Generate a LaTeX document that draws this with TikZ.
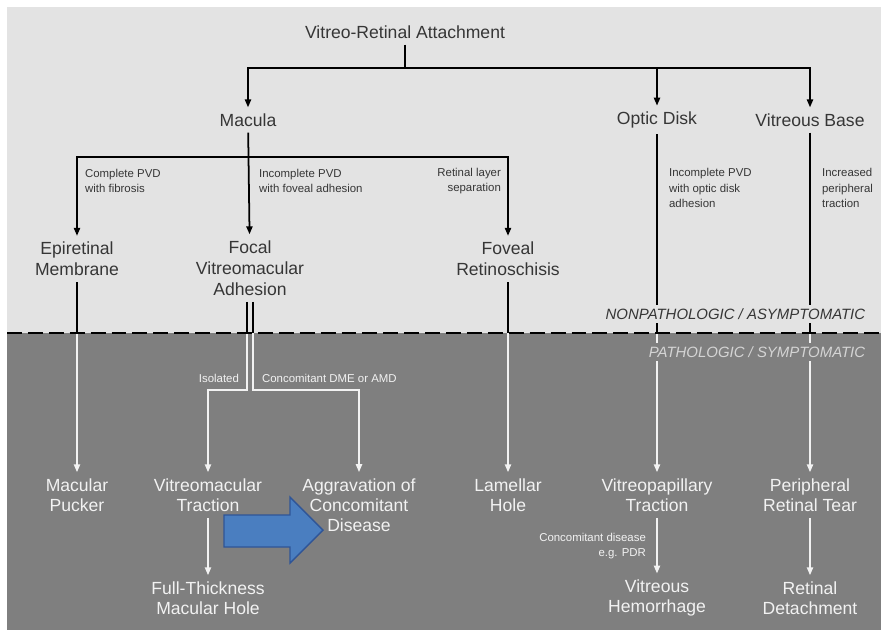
\documentclass[tikz,border=0pt]{standalone}
\usepackage{fontspec}
\setmainfont{Liberation Sans}
\usetikzlibrary{arrows.meta, positioning, calc}
\definecolor{topbg}{HTML}{E3E3E3}
\definecolor{botbg}{HTML}{7F7F7F}
\definecolor{toptext}{HTML}{363636}
\definecolor{bottext}{HTML}{F2F2F2}
\definecolor{zonetext}{HTML}{D4D4D4}
\definecolor{bigblue}{HTML}{4A7EC0}
\definecolor{bigedge}{HTML}{2F5597}

\begin{document}
\begin{tikzpicture}[x=0.02cm, y=-0.02cm,
    upper/.style={align=center, text=toptext, font=\fontsize{10}{12}\selectfont},
    lower/.style={align=center, text=bottext, font=\fontsize{10}{11.5}\selectfont},
    note/.style={align=left, text=toptext, inner sep=1pt, font=\fontsize{6.5}{9}\selectfont},
    lownote/.style={note, text=bottext},
    zone/.style={anchor=east, inner sep=2pt, font=\itshape\fontsize{8.5}{10}\selectfont},
    blk/.style={draw=black, line width=1pt},
    wht/.style={draw=bottext, line width=1pt},
    tip/.style={-{Triangle[length=4.5pt,width=3.5pt]}}
]
    \useasboundingbox (0,0) rectangle (881,633);
    \fill[topbg] (7,7) rectangle (881,333);
    \fill[botbg] (7,333) rectangle (881,630);

    \coordinate (topbus) at (0,68);
    \coordinate (macbus) at (0,157);
    \coordinate (divide) at (0,333);
    \coordinate (vmabus) at (0,390);

    % upper part
    \node[upper] (vra) at (405,32) {Vitreo-Retinal Attachment};
    \node[upper] (macula) at (248,120) {Macula};
    \node[upper] (optic) at (657,120) {Optic Disk};
    \node[upper] (vbase) at (810,120) {Vitreous Base};

    \node[upper] (epi) at (77,259) {Epiretinal\\Membrane};
    \node[upper] (fvma) at (250,268) {Focal\\Vitreomacular\\Adhesion};
    \node[upper] (fret) at (508,259) {Foveal\\Retinoschisis};

    % lower part
    \node[lower] (pucker) at (77,495) {Macular\\Pucker};
    \node[lower] (vmt) at (208,495) {Vitreomacular\\Traction};
    \node[lower] (acd) at (359,505) {Aggravation of\\Concomitant\\Disease};
    \node[lower] (lhole) at (508,495) {Lamellar\\Hole};
    \node[lower] (vpt) at (657,495) {Vitreopapillary\\Traction};
    \node[lower] (prt) at (810,495) {Peripheral\\Retinal Tear};

    \node[lower] (ftmh) at (208,598) {Full-Thickness\\Macular Hole};
    \node[lower] (vh) at (657,598) {Vitreous\\Hemorrhage};
    \node[lower] (rd) at (810,598) {Retinal\\Detachment};

    % black connectors
    \draw[blk] (vra) -- (vra |- topbus);
    \draw[blk,tip] (vra |- topbus) -| (macula);
    \draw[blk,tip] (vra |- topbus) -| (optic);
    \draw[blk,tip] (vra |- topbus) -| (vbase);

    \draw[blk,tip] (macula) -- (fvma);
    \draw[blk,tip] (macula |- macbus) -| (epi);
    \draw[blk,tip] (macula |- macbus) -| (fret);

    \draw[blk] (epi) -- (epi |- divide);
    \draw[blk] (fret) -- (fret |- divide);
    \draw[blk] (optic) -- (optic |- divide);
    \draw[blk] (vbase) -- (vbase |- divide);
    \draw[blk] ([xshift=-1.7pt]fvma.south) -- ([xshift=-1.7pt]fvma.south |- divide);
    \draw[blk] ([xshift=1.7pt]fvma.south) -- ([xshift=1.7pt]fvma.south |- divide);

    % white connectors
    \draw[wht,tip] (epi |- divide) -- (pucker);
    \draw[wht,tip] (fret |- divide) -- (lhole);
    \draw[wht,tip] (optic |- divide) -- (vpt);
    \draw[wht,tip] (vbase |- divide) -- (prt);
    \draw[wht,tip] ([xshift=-1.7pt]fvma.south |- divide) -- ([xshift=-1.7pt]fvma.south |- vmabus) -| (vmt);
    \draw[wht,tip] ([xshift=1.7pt]fvma.south |- divide) -- ([xshift=1.7pt]fvma.south |- vmabus) -| (acd);

    \draw[wht,tip] (vmt) -- (ftmh);
    \draw[wht,tip] (vpt) -- (vh);
    \draw[wht,tip] (prt) -- (rd);

    % labels on the connectors
    \node[note, anchor=west] (lblepi) at (83,181) {Complete PVD\\with fibrosis};
    \node[note, anchor=west] (lblfvma) at (257,181) {Incomplete PVD\\with foveal adhesion};
    \node[note, anchor=east, align=right] (lblfret) at (503,181) {Retinal layer\\separation};
    \node[note, anchor=west] (lbloptic) at (667,188) {Incomplete PVD\\with optic disk\\adhesion};
    \node[note, anchor=west] (lblvbase) at (820,188) {Increased\\peripheral\\traction};

    \node[lownote, anchor=east] (lbliso) at (241,378) {Isolated};
    \node[lownote, anchor=west] (lblconc) at (260,378) {Concomitant DME or AMD};
    \node[lownote, anchor=east, align=right] (lblpdr) at (648,546) {Concomitant disease\\e.g. PDR};

    % zone divide
    \draw[black, line width=1.5pt, dash pattern=on 8.5pt off 3.4pt] (7,333) -- (881,333);
    \node[zone, text=toptext, fill=topbg] (nonpatho) at (869,314) {NONPATHOLOGIC / ASYMPTOMATIC};
    \node[zone, text=zonetext, fill=botbg] (patho) at (869,352) {PATHOLOGIC / SYMPTOMATIC};

    % big blue arrow
    \draw[bigedge, fill=bigblue, line width=0.8pt]
        (224,515) -- (290,515) -- (290,497) -- (323,530) -- (290,563) -- (290,547) -- (224,547) -- cycle;
\end{tikzpicture}
\end{document}
